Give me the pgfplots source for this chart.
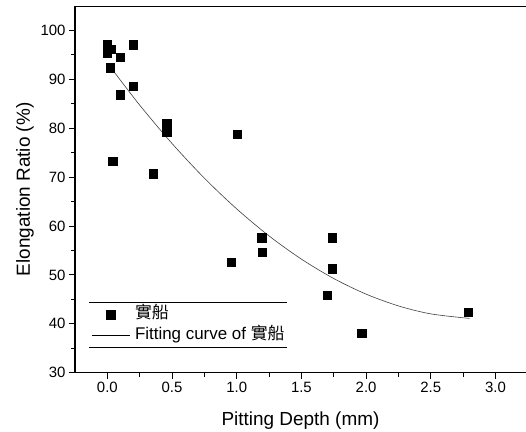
\documentclass[border=0pt]{standalone}
\usepackage{pgfplots}
\pgfplotsset{compat=1.18}
\usepackage{fontspec}
\setmainfont{Liberation Sans}
\newfontfamily\cjk{Noto Sans CJK TC}
\pgfplotsset{
  marklegend/.style={legend image code/.code={\draw[mark repeat=2,mark phase=2,##1] plot coordinates {(0bp,0bp) (19bp,0bp) (38bp,0bp)};}},
  linelegend/.style={legend image code/.code={\draw[black, line width=0.8bp] (0bp,0bp) -- (38bp,0bp);}},
}
\begin{document}
\begin{tikzpicture}
\useasboundingbox (-75bp,-59.3bp) rectangle (451bp,372.7bp);
\begin{axis}[
  scale only axis, width=451bp, height=366.7bp,
  xmin=-0.25, xmax=3.236, ymin=30, ymax=105,
  axis x line*=bottom, axis y line*=left,
  axis line style={line width=1.1bp},
  xtick={0,0.5,1,1.5,2,2.5,3}, ytick={30,40,50,60,70,80,90,100},
  minor x tick num=1, minor y tick num=1,
  tick align=outside, major tick length=6bp, minor tick length=4bp,
  tick style={line width=1bp, black},
  tick label style={font=\fontsize{15}{18}\selectfont},
  /pgf/number format/assume math mode=true,
  xticklabel style={/pgf/number format/.cd, fixed, fixed zerofill, precision=1, assume math mode=true},
  yticklabel style={/pgf/number format/.cd, fixed, precision=0, assume math mode=true},
  xlabel={Pitting Depth (mm)}, ylabel={Elongation Ratio (\%)},
  label style={font=\fontsize{19}{22}\selectfont},
  xlabel style={at={(axis description cs:0.5,-0.1309)}, anchor=center},
  ylabel style={at={(axis description cs:-0.1109,0.5)}, anchor=center},
  clip=false,
  legend cell align=left,
  legend style={at={(0.0355,0.130)}, anchor=west, draw=none, fill=none,
    font=\fontsize{17}{20}\selectfont, inner sep=0pt, row sep=3bp,
    nodes={inner sep=1bp, text height=12bp, text depth=4bp}, column sep=4bp},
]
\addplot[only marks, mark=square*, mark size=4.2bp, black, marklegend]
  coordinates {
  (0.00,97.07) (0.00,95.36) (0.03,96.18) (0.10,94.47) (0.20,97.07)
  (0.02,92.36) (0.20,88.54) (0.10,86.83) (0.46,80.9) (0.46,79.2)
  (1.005,78.78) (0.04,73.3) (0.356,70.73) (1.193,57.63) (1.198,54.63)
  (0.959,52.58) (1.737,57.63) (1.737,51.29) (1.698,45.83) (1.966,38.05)
  (2.79,42.35)
  };
\addlegendentry{{\cjk 實船}}
\addplot[smooth, line width=0.6bp, black!75, linelegend]
  coordinates {
  (0.03,92.3) (0.25,84.73) (0.5,76.88) (0.75,69.79) (1.0,63.5) (1.25,57.97)
  (1.5,53.23) (1.75,49.26) (2.0,46.07) (2.25,43.66) (2.5,42.03) (2.8,41.1)
  };
\addlegendentry{Fitting curve of {\cjk 實船}}
\draw[line width=1bp] (rel axis cs:0,1) -- (rel axis cs:1,1);
\draw[line width=0.8bp] (axis cs:-0.141,44.41) -- (axis cs:1.389,44.41);
\draw[line width=0.8bp] (axis cs:-0.141,35.12) -- (axis cs:1.389,35.12);
\end{axis}
\end{tikzpicture}
\end{document}
